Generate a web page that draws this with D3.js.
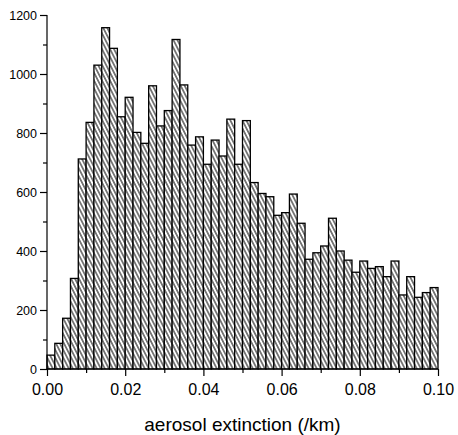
<!DOCTYPE html>
<html>
<head>
<meta charset="utf-8">
<script src="https://cdn.jsdelivr.net/npm/d3@7"></script>
<style>
  html, body { margin: 0; padding: 0; background: #fff; }
  svg { display: block; }
  text { font-family: Arial, "Liberation Sans", sans-serif; fill: #000; }
</style>
</head>
<body>
<svg id="chart" width="458" height="435"></svg>
<script>
// bin width 0.002 from 0 to 0.1
const binStarts = d3.range(50).map(i => +(i * 0.002).toFixed(3));
const binWidth = 0.002;
const counts = [47, 87, 172, 307, 712, 836, 1030, 1157, 1087, 855,
                921, 802, 765, 960, 824, 876, 1117, 963, 759, 787,
                694, 776, 722, 847, 694, 842, 632, 595, 584, 521,
                530, 593, 494, 372, 394, 417, 511, 400, 369, 328,
                366, 341, 347, 313, 366, 251, 313, 243, 259, 276];
const xTicks = [0, 0.02, 0.04, 0.06, 0.08, 0.10];
const xMinorTicks = [0.01, 0.03, 0.05, 0.07, 0.09];
const yTicks = [0, 200, 400, 600, 800, 1000, 1200];
const yMinorTicks = [100, 300, 500, 700, 900, 1100];
const xTitle = "aerosol extinction (/km)";

const svg = d3.select("#chart");
const x = d3.scaleLinear().domain([0, 0.1]).range([47, 438]);
const y = d3.scaleLinear().domain([0, 1200]).range([369, 15]);

const defs = svg.append("defs");
const pat = defs.append("pattern")
  .attr("id", "hatch")
  .attr("patternUnits", "userSpaceOnUse")
  .attr("width", 4).attr("height", 4)
  .attr("patternTransform", "skewX(27)");
pat.append("rect").attr("width", 4).attr("height", 4).attr("fill", "#fff");
pat.append("line").attr("x1", 1).attr("y1", -1).attr("x2", 1).attr("y2", 5)
  .attr("stroke", "#000").attr("stroke-width", 1.1);

svg.append("g").selectAll("rect")
  .data(counts)
  .join("rect")
  .attr("x", (d, i) => x(binStarts[i]))
  .attr("width", (d, i) => x(binStarts[i] + binWidth) - x(binStarts[i]))
  .attr("y", d => y(d))
  .attr("height", d => y(0) - y(d))
  .attr("fill", "url(#hatch)")
  .attr("stroke", "#000")
  .attr("stroke-width", 1.3);

// Y axis
const yAxis = svg.append("g").attr("transform", `translate(${x(0)},0)`)
  .call(d3.axisLeft(y).tickValues(yTicks).tickSize(7).tickPadding(3).tickFormat(d3.format("d")));
yAxis.selectAll("text").style("font-size", "12.5px");
const yMinor = svg.append("g").attr("transform", `translate(${x(0)},0)`)
  .call(d3.axisLeft(y).tickValues(yMinorTicks).tickSize(4).tickFormat(""));
yMinor.select(".domain").remove();

// X axis
const xAxis = svg.append("g").attr("transform", `translate(0,${y(0)})`)
  .call(d3.axisBottom(x).tickValues(xTicks).tickSize(7).tickPadding(8).tickFormat(d3.format(".2f")));
xAxis.selectAll("text").style("font-size", "16px");
const xMinor = svg.append("g").attr("transform", `translate(0,${y(0)})`)
  .call(d3.axisBottom(x).tickValues(xMinorTicks).tickSize(4).tickFormat(""));
xMinor.select(".domain").remove();

svg.selectAll(".domain, .tick line").attr("stroke", "#000").attr("stroke-width", 1.2);

// domain lines without outer ticks
yAxis.select(".domain").attr("d", `M0,${y(1200)}V${y(0)}`);
xAxis.select(".domain").attr("d", `M${x(0)},0H${x(0.1)}`);

svg.append("text")
  .attr("x", (x(0) + x(0.1)) / 2)
  .attr("y", 431)
  .attr("text-anchor", "middle")
  .style("font-size", "19px")
  .text(xTitle);
</script>
</body>
</html>
